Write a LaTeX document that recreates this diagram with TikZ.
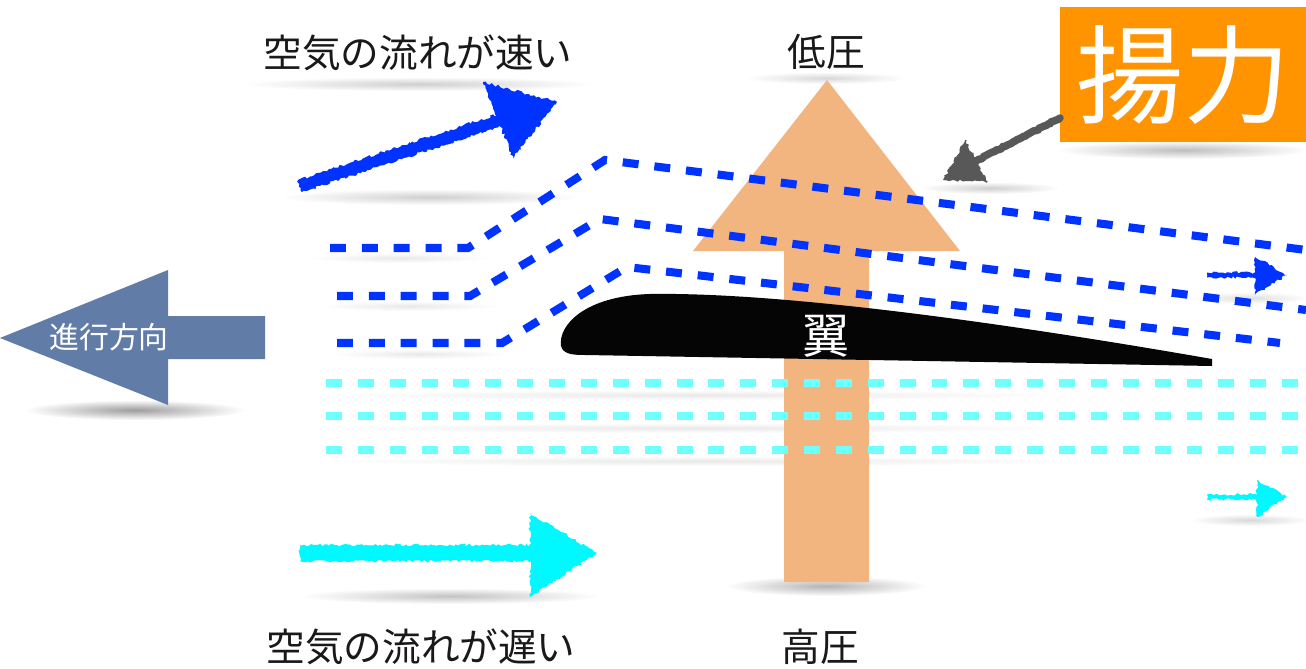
\documentclass[tikz,border=0pt]{standalone}
\usepackage{fontspec}
\newfontfamily\jp{Noto Sans CJK JP}
\usetikzlibrary{decorations.pathmorphing,fadings}
\definecolor{liftorange}{RGB}{255,147,0}
\definecolor{pressure}{RGB}{242,181,128}
\definecolor{fastblue}{RGB}{0,51,255}
\definecolor{slowcyan}{RGB}{112,255,255}
\definecolor{chalkcyan}{RGB}{0,248,255}
\definecolor{heading}{RGB}{98,124,168}
\definecolor{pointer}{RGB}{88,88,88}
\tikzfading[name=softfade, inner color=transparent!15, outer color=transparent!100]

\begin{document}
\begin{tikzpicture}[x=0.02cm, y=-0.02cm,
  stream/.style={line width=4.6pt, dash pattern=on 9.07pt off 9.07pt},
  fast/.style={stream, draw=fastblue},
  slow/.style={stream, draw=slowcyan},
  chalk/.style={decorate, decoration={random steps, segment length=1.3pt, amplitude=0.8pt}},
  jtext/.style={font=\jp\fontsize{22}{24}\selectfont, text=black!90, inner sep=0pt},
  haze/.style={fill=black, path fading=softfade}
]
\useasboundingbox (0,0) rectangle (1306,669);
\fill[white] (0,0) rectangle (1306,669);

% soft drop shadows under the slide objects
\fill[haze, opacity=.22] (418,84) ellipse (175 and 7);
\fill[haze, opacity=.22] (430,197) ellipse (150 and 8);
\fill[haze, opacity=.18] (826,78) ellipse (80 and 6);
\fill[haze, opacity=.45] (135,410) ellipse (110 and 10);
\fill[haze, opacity=.30] (1183,150) ellipse (125 and 9);
\fill[haze, opacity=.35] (826,586) ellipse (100 and 10);
\fill[haze, opacity=.28] (450,596) ellipse (150 and 8);
\fill[haze, opacity=.22] (990,188) ellipse (70 and 6);
\fill[haze, opacity=.15] (1250,298) ellipse (60 and 6);
\fill[haze, opacity=.18] (1250,520) ellipse (60 and 6);
\fill[haze, opacity=.10] (400,258) ellipse (90 and 5);
\fill[haze, opacity=.10] (410,306) ellipse (90 and 5);
\fill[haze, opacity=.10] (420,354) ellipse (90 and 5);
\fill[haze, opacity=.10] (700,395) ellipse (380 and 5);
\fill[haze, opacity=.10] (700,428) ellipse (380 and 5);
\fill[haze, opacity=.10] (700,461) ellipse (380 and 5);

% pressure arrow (high to low)
\fill[pressure] (827,80) -- (960,251) -- (869,251) -- (869,582)
  -- (784,582) -- (784,251) -- (693,251) -- cycle;

% slow stream lines below the wing
\draw[slow] (326,383) -- (1306,383);
\draw[slow] (326,416) -- (1306,416);
\draw[slow] (326,450) -- (1306,450);

% fast stream lines over the wing
\draw[fast] (330,248) -- (468,248) -- (605,160) -- (1306,250);
\draw[fast] (337,296) -- (470,296) -- (600,219) -- (1306,310);
\draw[fast] (337,343) -- (502,343) -- (627,267) -- (1280,343);

% wing section
\fill[black!98] (1212,359) .. controls (1000,322) and (780,292) .. (650,294)
  .. controls (585,296) and (558,325) .. (561,346)
  .. controls (563,354) and (572,355) .. (585,355) -- (1212,366) -- cycle;
\node[font=\jp\fontsize{27}{27}\selectfont, text=white, inner sep=0pt] (wing) at (826,336) {翼};

% direction of travel
\fill[heading] (0,338) -- (168,270) -- (168,316) -- (265,316) -- (265,359)
  -- (168,359) -- (168,405) -- cycle;
\node[font=\jp\fontsize{17}{17}\selectfont, text=white, inner sep=0pt] (dir) at (109,337) {進行方向};

% chalk arrows: rough-edged shafts and heads
\fill[fastblue, chalk] (298,180) -- (498,114) -- (502,126) -- (302,192) -- cycle;
\fill[fastblue, chalk] (483,82) -- (557,102) -- (513,158) -- cycle;

\fill[chalkcyan, chalk] (300,545) -- (534,545) -- (534,561) -- (300,561) -- cycle;
\fill[chalkcyan, chalk] (530,513) -- (597,553) -- (530,597) -- cycle;

\fill[fastblue, chalk] (1207,272.5) -- (1258,272.5) -- (1258,277.5) -- (1207,277.5) -- cycle;
\fill[fastblue, chalk] (1255,257) -- (1287,275) -- (1255,295) -- cycle;

\fill[chalkcyan, chalk] (1207,494.5) -- (1258,494.5) -- (1258,499.5) -- (1207,499.5) -- cycle;
\fill[chalkcyan, chalk] (1257,480) -- (1287,497) -- (1257,517) -- cycle;

% lift label and its pointer
\node[fill=liftorange, text=white, font=\jp\fontsize{61}{61}\selectfont,
  minimum width=4.92cm, minimum height=2.7cm, inner sep=0pt, anchor=north west]
  (lift) at (1060,7) {揚力};
\draw[pointer, line width=4.3pt, line cap=round,
  decorate, decoration={random steps, segment length=1.3pt, amplitude=0.35pt}]
  (lift.west |- 0,118) -- (976,161);
\fill[pointer, chalk] (965,140) -- (943,180) -- (988,182) -- cycle;

% captions
\node[jtext] (fasttext) at (418,53) {空気の流れが速い};
\node[jtext] (slowtext) at (421,647) {空気の流れが遅い};
\node[jtext] (low) at (826,52) {低圧};
\node[jtext] (high) at (820,647) {高圧};
\end{tikzpicture}
\end{document}
